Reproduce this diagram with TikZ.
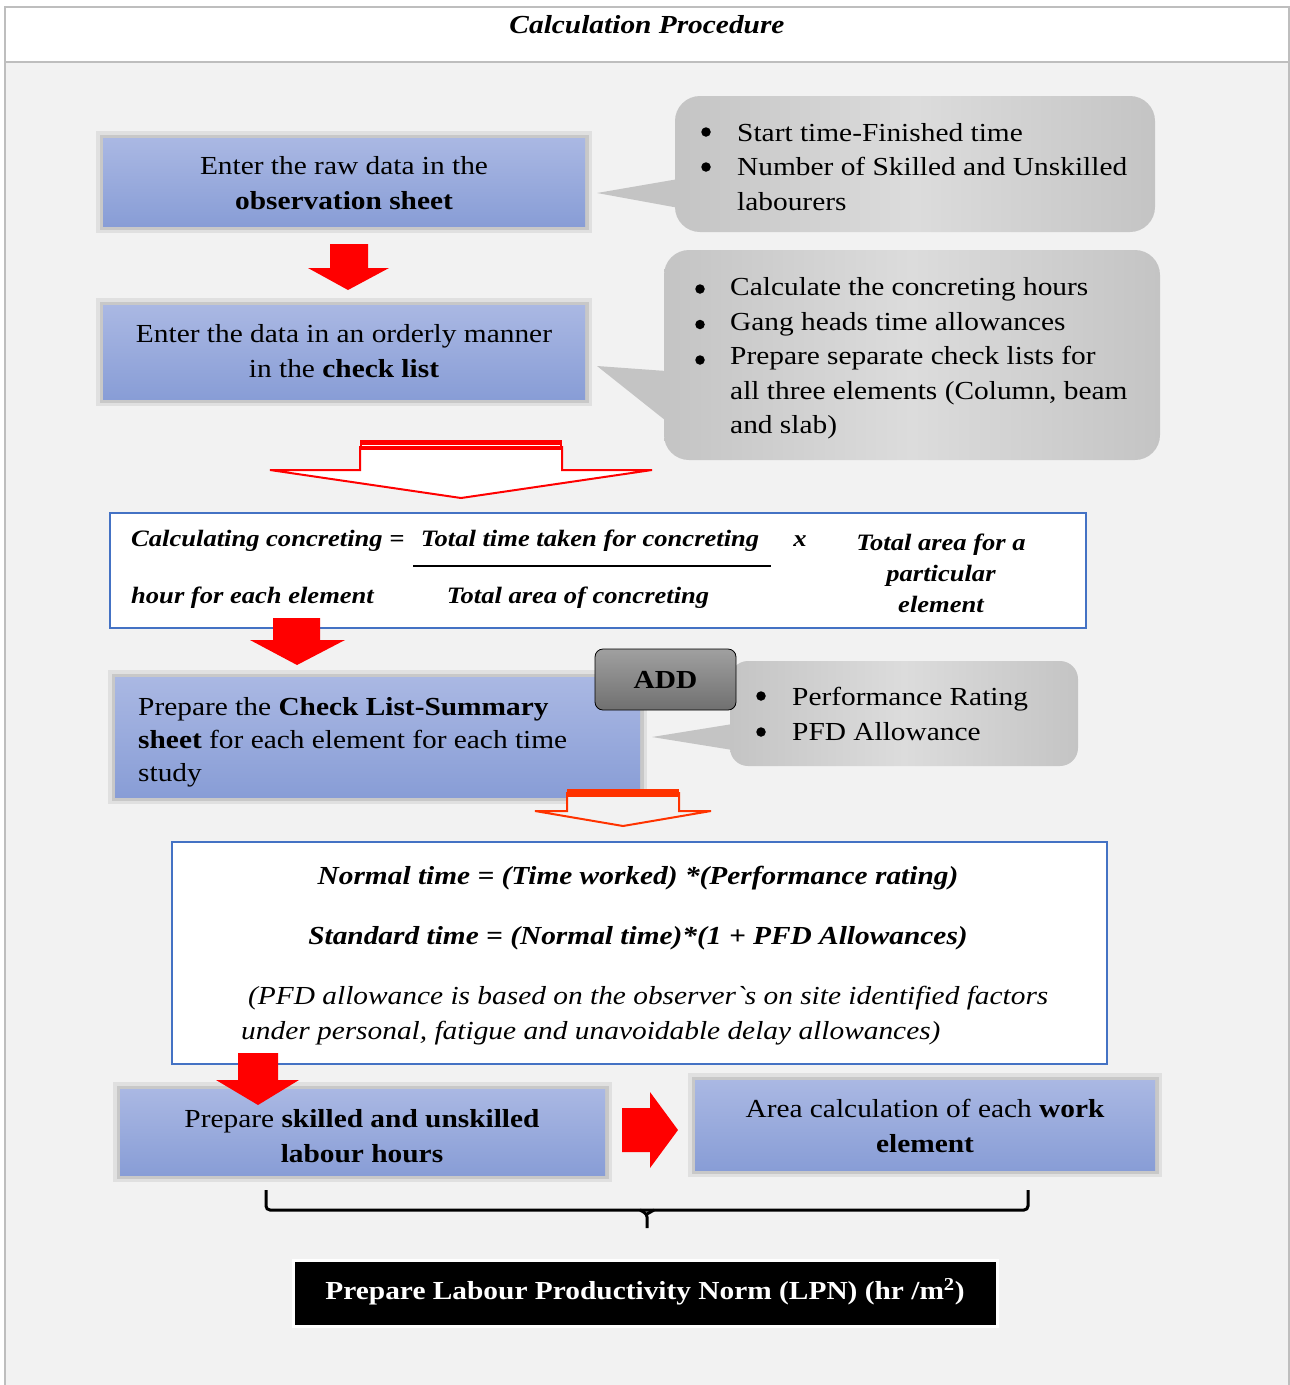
\documentclass[tikz,border=0pt]{standalone}
\usepackage{fontspec}
\setmainfont{Liberation Serif}[FakeStretch=1.13]
\usetikzlibrary{calc}
\definecolor{bgg}{RGB}{242,242,242}
\definecolor{frame}{RGB}{190,190,190}
\definecolor{btop}{RGB}{170,184,227}
\definecolor{bbot}{RGB}{136,157,214}
\definecolor{shad}{RGB}{200,200,200}
\definecolor{shadl}{RGB}{224,224,224}
\definecolor{cg1}{RGB}{196,196,196}
\definecolor{cg2}{RGB}{220,220,220}
\definecolor{fblue}{RGB}{68,114,196}
\definecolor{ared}{RGB}{255,0,0}
\definecolor{ored}{RGB}{255,51,0}
\definecolor{addtop}{RGB}{160,160,160}
\definecolor{addbot}{RGB}{112,112,112}
\tikzset{
  txt/.style={font=\fontsize{26}{34.5}\selectfont, inner sep=0pt},
  bluebox/.style={rectangle, inner sep=0pt, top color=btop, bottom color=bbot,
    preaction={draw=shadl, line width=14pt},
    preaction={draw=shad, line width=7pt}},
  callbox/.style={rectangle, rounded corners=25pt, inner sep=0pt, shading=axis,
    left color=cg1, right color=cg1, middle color=cg2},
  fbox/.style={rectangle, draw=fblue, line width=1.6pt, fill=white, inner sep=0pt},
  fml/.style={font=\fontsize{23.5}{31}\selectfont\bfseries\itshape, inner sep=0pt},
  fml2/.style={font=\fontsize{26}{34}\selectfont\bfseries\itshape, inner sep=0pt},
  itl/.style={font=\fontsize{26}{34}\selectfont\itshape, inner sep=0pt},
  bul/.style={circle, fill=black, inner sep=0pt, minimum size=9.5pt},
  solidarrow/.style={fill=ared},
}
\begin{document}
\begin{tikzpicture}[x=1pt,y=-1pt]
\useasboundingbox (0,0) rectangle (1290,1385);
\fill[white] (0,0) rectangle (1290,1385);
\fill[bgg] (5,62) rectangle (1289,1385);
\draw[frame, line width=1.3pt] (5,1385) -- (5,7) -- (1289,7) -- (1289,1385);
\draw[frame, line width=1.3pt] (5,62) -- (1289,62);
\node[inner sep=0pt, font=\fontsize{26}{30}\selectfont\bfseries\itshape] (title) at (647,25) {Calculation Procedure};

% ---------- box 1 and callout 1
\node[bluebox, minimum width=482pt, minimum height=88pt] (b1) at (344,182) {};
\node[txt, align=center] (b1t) at (344,183) {Enter the raw data in the\\\textbf{observation sheet}};
\fill[cg1] (597,193) -- (690,177) -- (690,210) -- cycle;
\node[callbox, minimum width=480pt, minimum height=136pt] (c1) at (915,164) {};
\node[txt, anchor=west, align=left] (c1t) at (737,167) {Start time-Finished time\\Number of Skilled and Unskilled\\labourers};
\node[bul] (c1b1) at (706,132) {};
\node[bul] (c1b2) at (706,167) {};

% ---------- arrow 1
\fill[solidarrow] (330,244) -- (368,244) -- (368,268) -- (389,268) -- (348,290) -- (308,268) -- (330,268) -- cycle;

% ---------- box 2 and callout 2
\node[bluebox, minimum width=482pt, minimum height=94pt] (b2) at (344,352) {};
\node[txt, align=center] (b2t) at (344,351) {Enter the data in an orderly manner\\in the \textbf{check list}};
\fill[cg1] (597,366) -- (680,372) -- (680,432) -- cycle;
\node[callbox, minimum width=496pt, minimum height=210pt] (c2) at (912,355) {};
\node[txt, anchor=west, align=left] (c2t) at (730,358.5) {Calculate the concreting hours\\Gang heads time allowances\\Prepare separate check lists for\\all three elements (Column, beam\\and slab)};
\node[bul] (c2b1) at (700,289) {};
\node[bul] (c2b2) at (700,324.5) {};
\node[bul] (c2b3) at (700,360) {};

% ---------- hollow arrow 1
\draw[ared, line width=2pt, fill=white, line join=miter] (360,447) -- (562,447) -- (562,470) -- (652,470) -- (461,498) -- (270,470) -- (360,470) -- cycle;
\fill[ared] (360,440) rectangle (562,450);
\draw[white, line width=1pt] (362,445) -- (560,445);

% ---------- formula box 1
\node[fbox, minimum width=976pt, minimum height=115pt] (f1) at (598,570.5) {};
\node[fml, anchor=west] (f1a) at (131,541) {Calculating concreting =};
\node[fml] (f1b) at (590,541) {Total time taken for concreting};
\coordinate (fl1) at (413,566);
\coordinate (fl2) at (771,566);
\draw[line width=1.3pt] (fl1) -- (fl2);
\node[fml] (f1x) at (800,541) {x};
\node[fml, align=center] (f1c) at (941,573.5) {Total area for a\\particular\\element};
\node[fml, anchor=west] (f1d) at (131,598) {hour for each element};
\node[fml] (f1e) at (578,598) {Total area of concreting};

% ---------- arrow 2
\fill[solidarrow] (273,618) -- (320,618) -- (320,640) -- (345,640) -- (297,665) -- (250,640) -- (273,640) -- cycle;

% ---------- box 3, ADD, callout 3
\fill[cg1] (652,737) -- (745,722) -- (745,752) -- cycle;
\node[callbox, rounded corners=18pt, minimum width=348pt, minimum height=105pt] (c3) at (904,713.5) {};
\node[txt, anchor=west, align=left] (c3t) at (792,714) {Performance Rating\\PFD Allowance};
\node[bul] (c3b1) at (761,696) {};
\node[bul] (c3b2) at (761,732) {};
\node[bluebox, minimum width=525pt, minimum height=120pt] (b3) at (377.5,737) {};
\node[txt, anchor=west, align=left, font=\fontsize{26}{33}\selectfont] (b3t) at (138,742) {Prepare the \textbf{Check List-Summary}\\\textbf{sheet} for each element for each time\\study};
\node[rectangle, rounded corners=8pt, draw=black, line width=0.8pt, top color=addtop, bottom color=addbot, minimum width=141pt, minimum height=61pt, inner sep=0pt] (add) at (665.5,679.5) {};
\node[txt, font=\fontsize{26}{30}\selectfont\bfseries] (addt) at (665.5,680) {ADD};

% ---------- hollow arrow 2
\draw[ored, line width=2pt, fill=bgg, line join=miter] (567,793) -- (679,793) -- (679,811) -- (711,811) -- (623,826) -- (535,811) -- (567,811) -- cycle;
\fill[ored] (567,789) rectangle (679,797);

% ---------- formula box 2
\node[fbox, minimum width=935pt, minimum height=222pt] (f2) at (639.5,953) {};
\node[fml2] (f2a) at (638,878) {Normal time = (Time worked) *(Performance rating)};
\node[fml2] (f2b) at (638,938) {Standard time = (Normal time)*(1 + PFD Allowances)};
\node[itl, anchor=west] (f2c) at (248,998) {(PFD allowance is based on the observer\textasciigrave s on site identified factors};
\node[itl, anchor=west] (f2d) at (241,1033) {under personal, fatigue and unavoidable delay allowances)};

% ---------- box 4, box 5
\node[bluebox, minimum width=485pt, minimum height=86pt] (b4) at (362.5,1132) {};
\node[txt, align=center] (b4t) at (362,1136) {Prepare \textbf{skilled and unskilled}\\\textbf{labour hours}};
\node[bluebox, minimum width=460pt, minimum height=90pt] (b5) at (925,1125) {};
\node[txt, align=center] (b5t) at (925,1126) {Area calculation of each \textbf{work}\\\textbf{element}};

% ---------- arrow 3 and right arrow
\fill[solidarrow] (238,1053) -- (278,1053) -- (278,1080) -- (299,1080) -- (258,1105) -- (216,1080) -- (238,1080) -- cycle;
\fill[solidarrow] (622,1108) -- (650,1108) -- (650,1092) -- (678,1130) -- (650,1168) -- (650,1152) -- (622,1152) -- cycle;

% ---------- brace
\coordinate (brl) at (266,1190);
\coordinate (brr) at (1028,1190);
\coordinate (brm) at (647,1228);
\draw[line width=3pt, rounded corners=4pt] (brl) -- (266,1210) -- (1028,1210) -- (brr);
\draw[line width=3pt, rounded corners=3pt] (640,1210) -- (647,1214) -- (brm);
\draw[line width=3pt, rounded corners=3pt] (654,1210) -- (647,1214);

% ---------- final box
\node[rectangle, fill=black, draw=white, line width=3pt, minimum width=704pt, minimum height=66pt, inner sep=0pt] (lpn) at (645,1293.5) {};
\node[txt, text=white, font=\fontsize{26}{30}\selectfont\bfseries] (lpnt) at (645,1292) {Prepare Labour Productivity Norm (LPN) (hr /m\textsuperscript{2})};
\end{tikzpicture}
\end{document}
